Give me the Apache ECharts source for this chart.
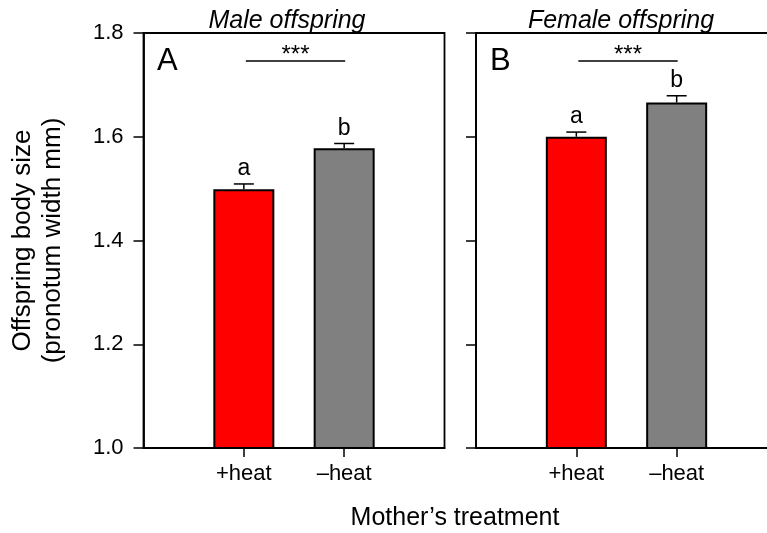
<!DOCTYPE html>
<html>
<head>
<meta charset="utf-8">
<script src="https://cdn.jsdelivr.net/npm/echarts@6/dist/echarts.min.js"></script>
<style>html,body{margin:0;padding:0;background:#fff}#c{width:767px;height:533px}</style>
</head>
<body>
<div id="c"></div>
<script>
// ---- data ----
const categories = ['+heat', '\u2013heat'];
const xPositions = [1, 2];
const maleMeans = [1.499, 1.578];
const maleErr = [0.010, 0.009];
const maleLetters = ['a', 'b'];
const femaleMeans = [1.600, 1.666];
const femaleErr = [0.009, 0.013];
const femaleLetters = ['a', 'b'];
const yTicks = [1.0, 1.2, 1.4, 1.6, 1.8];
const sigLevel = [1.746];
const sigSpan = [1.02, 2.01];
const sigText = '***';
const panelTitles = ['Male offspring', 'Female offspring'];
const panelLetters = ['A', 'B'];
const barColors = ['#ff0000', '#808080'];

const FONT = '"Liberation Sans", Arial, sans-serif';
const chart = echarts.init(document.getElementById('c'));

function barData(means) {
  return means.map((m, i) => ({ value: [xPositions[i], m], itemStyle: { color: barColors[i] } }));
}
function errData(means, errs) {
  return means.map((m, i) => [xPositions[i], m, errs[i], i]);
}
function makeErrRender(letters) {
  return function (params, api) {
    const x = api.value(0), m = api.value(1), e = api.value(2);
    const letter = letters[params.dataIndex];
    const p0 = api.coord([x, m]);
    const p1 = api.coord([x, m + e]);
    return {
      type: 'group',
      children: [
        { type: 'line', shape: { x1: p0[0], y1: p0[1], x2: p1[0], y2: p1[1] }, style: { stroke: '#000', lineWidth: 1.5 } },
        { type: 'line', shape: { x1: p1[0] - 10, y1: p1[1], x2: p1[0] + 10, y2: p1[1] }, style: { stroke: '#000', lineWidth: 1.5 } },
        { type: 'text', style: { x: p1[0], y: p1[1] - 3.5, text: letter, fill: '#000', font: '23px ' + FONT, textAlign: 'center', textVerticalAlign: 'bottom' } }
      ]
    };
  };
}
function sigRender(params, api) {
  const a = api.coord([api.value(0), api.value(2)]);
  const b = api.coord([api.value(1), api.value(2)]);
  return {
    type: 'group',
    children: [
      { type: 'line', shape: { x1: a[0], y1: a[1], x2: b[0], y2: b[1] }, style: { stroke: '#000', lineWidth: 1.5 } },
      { type: 'text', style: { x: (a[0] + b[0]) / 2, y: a[1] - 6, text: sigText, fill: '#000', font: '24px ' + FONT, textAlign: 'center', textVerticalAlign: 'middle' } }
    ]
  };
}

const grids = [
  { left: 143.5, top: 33, width: 301, height: 415 },
  { left: 476, top: 33, width: 301, height: 415 }
];

function xAxis(gi) {
  return {
    type: 'value', gridIndex: gi, min: 0, max: 3, interval: 1,
    axisLine: { show: true, onZero: false, lineStyle: { color: '#000', width: 1.8 } },
    axisTick: { show: true, length: 9, customValues: xPositions, lineStyle: { color: '#000', width: 1.5 } },
    axisLabel: { customValues: xPositions, formatter: v => categories[xPositions.indexOf(v)] || '', color: '#000', fontSize: 22, fontFamily: FONT, margin: 15 },
    splitLine: { show: false }
  };
}
function yAxis(gi, showLabels) {
  return {
    type: 'value', gridIndex: gi, min: yTicks[0], max: yTicks[yTicks.length - 1], interval: 0.2,
    axisLine: { show: true, lineStyle: { color: '#000', width: 1.8 } },
    axisTick: { show: true, length: 10, lineStyle: { color: '#000', width: 1.5 } },
    axisLabel: { show: showLabels, formatter: v => v.toFixed(1), color: '#000', fontSize: 22, fontFamily: FONT, margin: 20 },
    splitLine: { show: false },
    name: showLabels ? 'Offspring body size\n(pronotum width mm)' : '',
    nameLocation: 'middle', nameGap: 76,
    nameTextStyle: { color: '#000', fontSize: 26, fontFamily: FONT, lineHeight: 30 }
  };
}

const option = {
  backgroundColor: '#fff',
  animation: false,
  grid: grids.map(g => Object.assign({ show: true, borderColor: '#000', borderWidth: 1.8, backgroundColor: 'transparent', containLabel: false, outerBoundsMode: 'none' }, g)),
  xAxis: [xAxis(0), xAxis(1)],
  yAxis: [yAxis(0, true), yAxis(1, false)],
  graphic: [
    { type: 'text', x: 287, y: 21, style: { text: panelTitles[0], font: 'italic 25px ' + FONT, fill: '#000', textAlign: 'center', textVerticalAlign: 'middle' } },
    { type: 'text', x: 621, y: 21, style: { text: panelTitles[1], font: 'italic 25px ' + FONT, fill: '#000', textAlign: 'center', textVerticalAlign: 'middle' } },
    { type: 'text', x: 157, y: 61, style: { text: panelLetters[0], font: '31px ' + FONT, fill: '#000', textAlign: 'left', textVerticalAlign: 'middle' } },
    { type: 'text', x: 490, y: 61, style: { text: panelLetters[1], font: '31px ' + FONT, fill: '#000', textAlign: 'left', textVerticalAlign: 'middle' } },
    { type: 'text', x: 455, y: 518, style: { text: 'Mother\u2019s treatment', font: '25px ' + FONT, fill: '#000', textAlign: 'center', textVerticalAlign: 'middle' } }
  ],
  series: [
    { type: 'bar', xAxisIndex: 0, yAxisIndex: 0, barWidth: 61, clip: true, data: barData(maleMeans), itemStyle: { borderColor: '#000', borderWidth: 2 }, z: 2 },
    { type: 'custom', xAxisIndex: 0, yAxisIndex: 0, renderItem: makeErrRender(maleLetters), data: errData(maleMeans, maleErr), encode: { x: 0, y: 1 }, z: 3 },
    { type: 'bar', xAxisIndex: 1, yAxisIndex: 1, barWidth: 61, clip: true, data: barData(femaleMeans), itemStyle: { borderColor: '#000', borderWidth: 2 }, z: 2 },
    { type: 'custom', xAxisIndex: 1, yAxisIndex: 1, renderItem: makeErrRender(femaleLetters), data: errData(femaleMeans, femaleErr), encode: { x: 0, y: 1 }, z: 3 },
    { type: 'custom', xAxisIndex: 0, yAxisIndex: 0, renderItem: sigRender, data: [[sigSpan[0], sigSpan[1], sigLevel[0]]], encode: { x: [0, 1], y: 2 }, z: 3 },
    { type: 'custom', xAxisIndex: 1, yAxisIndex: 1, renderItem: sigRender, data: [[sigSpan[0], sigSpan[1], sigLevel[0]]], encode: { x: [0, 1], y: 2 }, z: 3 }
  ]
};
chart.setOption(option);
</script>
</body>
</html>
